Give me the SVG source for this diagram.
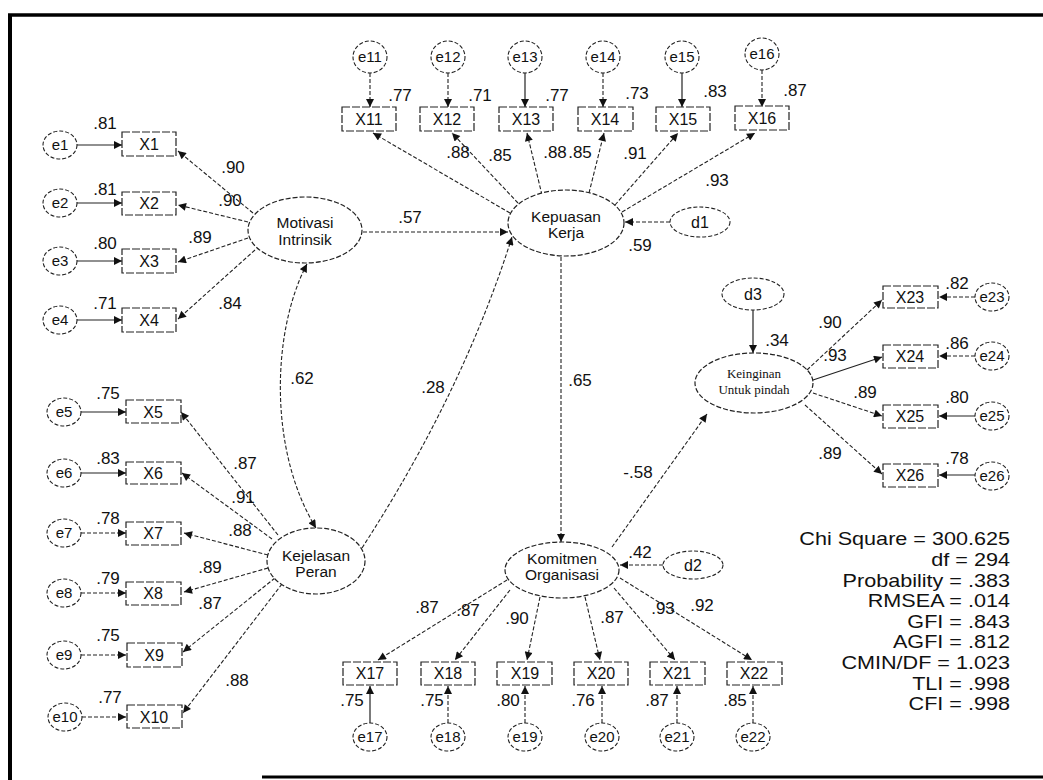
<svg xmlns="http://www.w3.org/2000/svg" width="1043" height="780" viewBox="0 0 1043 780">
<defs>
<marker id="ah" viewBox="0 0 10 10" refX="10" refY="5" markerWidth="10" markerHeight="8" orient="auto-start-reverse" markerUnits="userSpaceOnUse"><path d="M0,0 L10,5 L0,10 z" fill="#111"/></marker>
<style>
.lv{fill:#fff;stroke:#222;stroke-width:1.2;stroke-dasharray:5 2}
.ev{fill:#fff;stroke:#222;stroke-width:1.1;stroke-dasharray:4 2}
.bx{fill:#fff;stroke:#222;stroke-width:1.2;stroke-dasharray:8 2}
.c{fill:none;stroke:#222;stroke-width:1.1;stroke-dasharray:4 2;marker-end:url(#ah)}
.s{fill:none;stroke:#222;stroke-width:1.2;marker-end:url(#ah)}
.bi{fill:none;stroke:#222;stroke-width:1.1;stroke-dasharray:4 2;marker-end:url(#ah);marker-start:url(#ah)}
text{font-family:"Liberation Sans",Arial,sans-serif;fill:#111}
.n{font-size:16px;text-anchor:middle}
.e{font-size:15px;text-anchor:middle}
.v{font-size:17px;text-anchor:middle}
.lt{font-size:15.5px;text-anchor:middle}
.sr{font-family:"Liberation Serif","Times New Roman",serif;font-size:13px;text-anchor:middle}
.fit{font-size:18px;text-anchor:end}
</style>
</defs>
<rect width="1043" height="780" fill="#fff"/>
<g id="frame" stroke="#000" fill="none">
<line x1="10" y1="14" x2="10" y2="780" stroke-width="4"/>
<line x1="8" y1="15" x2="1043" y2="15" stroke-width="3.5"/>
<line x1="262" y1="777" x2="1043" y2="777" stroke-width="3"/>
</g>
<g id="connectors">
<path class="c" d="M253 213 L178 151"/>
<path class="c" d="M248 222 L178 205"/>
<path class="c" d="M248 238 L178 262"/>
<path class="c" d="M255 250 L178 319"/>
<path class="s" d="M77 145 L122 145"/>
<path class="s" d="M77 203 L122 203"/>
<path class="s" d="M77 261 L122 261"/>
<path class="s" d="M77 320 L122 320"/>
<path class="c" d="M510 213 L373 133"/>
<path class="c" d="M518 203 L452 133"/>
<path class="c" d="M542 195 L527 133"/>
<path class="c" d="M589 193 L604 133"/>
<path class="c" d="M615 205 L678 133"/>
<path class="c" d="M622 212 L755 133"/>
<path class="c" d="M370 73 L370 107"/>
<path class="c" d="M448 73 L448 107"/>
<path class="s" d="M525 73 L525 107"/>
<path class="c" d="M603 73 L603 107"/>
<path class="s" d="M682 73 L682 107"/>
<path class="c" d="M762 70 L762 107"/>
<path class="c" d="M670 222 L625 222"/>
<path class="c" d="M363 232 L508 232"/>
<path class="bi" d="M307 264 C272 330 268 450 316 528"/>
<path class="c" d="M362 548 Q463 392 512 237"/>
<path class="c" d="M278 535 L181 412"/>
<path class="c" d="M272 539 L182 473"/>
<path class="c" d="M268 555 L184 533"/>
<path class="c" d="M268 568 L184 592"/>
<path class="c" d="M275 578 L183 652"/>
<path class="c" d="M282 584 L183 713"/>
<path class="s" d="M81 412 L126 412"/>
<path class="s" d="M81 473 L126 473"/>
<path class="c" d="M81 533 L126 533"/>
<path class="c" d="M81 593 L126 593"/>
<path class="c" d="M81 655 L126 655"/>
<path class="c" d="M82 717 L126 717"/>
<path class="c" d="M561 257 L561 542"/>
<path class="c" d="M663 565 L620 565"/>
<path class="c" d="M612 547 L707 414"/>
<path class="c" d="M507 580 L378 660"/>
<path class="c" d="M510 590 L455 660"/>
<path class="c" d="M540 597 L527 660"/>
<path class="c" d="M585 597 L600 660"/>
<path class="c" d="M614 588 L675 660"/>
<path class="c" d="M620 578 L752 660"/>
<path class="s" d="M370 723 L370 686"/>
<path class="c" d="M448 723 L448 686"/>
<path class="c" d="M525 723 L525 686"/>
<path class="c" d="M602 723 L602 686"/>
<path class="c" d="M677 723 L677 686"/>
<path class="c" d="M753 723 L753 686"/>
<path class="s" d="M753 310 L753 353"/>
<path class="c" d="M807 370 L882 300"/>
<path class="s" d="M813 380 L882 357"/>
<path class="c" d="M813 393 L882 416"/>
<path class="c" d="M805 405 L882 474"/>
<path class="c" d="M975 297 L939 297"/>
<path class="c" d="M975 356 L939 356"/>
<path class="s" d="M975 416 L939 416"/>
<path class="s" d="M975 475 L939 475"/>
</g>
<g id="motivasi"><ellipse class="lv" cx="305" cy="230" rx="57" ry="33"/><text class="lt" x="305" y="228">Motivasi</text><text class="lt" x="305" y="245">Intrinsik</text></g>
<g id="kepuasan"><ellipse class="lv" cx="566" cy="223" rx="58" ry="33"/><text class="lt" x="566" y="222">Kepuasan</text><text class="lt" x="566" y="238">Kerja</text></g>
<g id="kejelasan"><ellipse class="lv" cx="316" cy="561" rx="49" ry="33"/><text class="lt" x="316" y="561">Kejelasan</text><text class="lt" x="316" y="577">Peran</text></g>
<g id="komitmen"><ellipse class="lv" cx="562" cy="570" rx="57" ry="28"/><text class="lt" x="562" y="564">Komitmen</text><text class="lt" x="562" y="580">Organisasi</text></g>
<g id="keinginan"><ellipse class="lv" cx="754" cy="383" rx="59" ry="30"/><text class="sr" x="754" y="378">Keinginan</text><text class="sr" x="754" y="394">Untuk pindah</text></g>
<g id="d1"><ellipse class="ev" cx="700" cy="222" rx="30" ry="15"/><text class="n" x="700" y="228">d1</text></g>
<g id="d2"><ellipse class="ev" cx="693" cy="565" rx="30" ry="14"/><text class="n" x="693" y="571">d2</text></g>
<g id="d3"><ellipse class="ev" cx="753" cy="294" rx="31" ry="16"/><text class="n" x="753" y="300">d3</text></g>
<g id="X1"><rect class="bx" x="122" y="132" width="54" height="24"/><text class="n" x="149" y="150">X1</text></g>
<g id="X2"><rect class="bx" x="122" y="192" width="54" height="23"/><text class="n" x="149" y="209">X2</text></g>
<g id="X3"><rect class="bx" x="122" y="249" width="54" height="24"/><text class="n" x="149" y="267">X3</text></g>
<g id="X4"><rect class="bx" x="122" y="308" width="54" height="24"/><text class="n" x="149" y="326">X4</text></g>
<g id="X5"><rect class="bx" x="126" y="400" width="55" height="23"/><text class="n" x="153" y="418">X5</text></g>
<g id="X6"><rect class="bx" x="126" y="462" width="55" height="22"/><text class="n" x="153" y="479">X6</text></g>
<g id="X7"><rect class="bx" x="126" y="522" width="55" height="23"/><text class="n" x="153" y="539">X7</text></g>
<g id="X8"><rect class="bx" x="126" y="582" width="55" height="23"/><text class="n" x="153" y="599">X8</text></g>
<g id="X9"><rect class="bx" x="127" y="643" width="55" height="24"/><text class="n" x="154" y="661">X9</text></g>
<g id="X10"><rect class="bx" x="127" y="705" width="55" height="23"/><text class="n" x="154" y="723">X10</text></g>
<g id="e1"><ellipse class="ev" cx="60" cy="145" rx="17" ry="14"/><text class="e" x="60" y="150">e1</text></g>
<g id="e2"><ellipse class="ev" cx="60" cy="203" rx="17" ry="14"/><text class="e" x="60" y="208">e2</text></g>
<g id="e3"><ellipse class="ev" cx="60" cy="261" rx="17" ry="14"/><text class="e" x="60" y="266">e3</text></g>
<g id="e4"><ellipse class="ev" cx="60" cy="320" rx="17" ry="14"/><text class="e" x="60" y="325">e4</text></g>
<g id="e5"><ellipse class="ev" cx="64" cy="412" rx="17" ry="14"/><text class="e" x="64" y="417">e5</text></g>
<g id="e6"><ellipse class="ev" cx="64" cy="473" rx="17" ry="14"/><text class="e" x="64" y="478">e6</text></g>
<g id="e7"><ellipse class="ev" cx="64" cy="533" rx="17" ry="14"/><text class="e" x="64" y="538">e7</text></g>
<g id="e8"><ellipse class="ev" cx="64" cy="593" rx="17" ry="14"/><text class="e" x="64" y="598">e8</text></g>
<g id="e9"><ellipse class="ev" cx="64" cy="655" rx="17" ry="14"/><text class="e" x="64" y="660">e9</text></g>
<g id="e10"><ellipse class="ev" cx="65" cy="717" rx="17" ry="14"/><text class="e" x="65" y="722">e10</text></g>
<g id="X11"><rect class="bx" x="342" y="107" width="54" height="24"/><text class="n" x="369" y="125">X11</text></g>
<g id="X12"><rect class="bx" x="420" y="107" width="54" height="24"/><text class="n" x="447" y="125">X12</text></g>
<g id="X13"><rect class="bx" x="499" y="107" width="54" height="24"/><text class="n" x="526" y="125">X13</text></g>
<g id="X14"><rect class="bx" x="578" y="107" width="55" height="24"/><text class="n" x="605" y="125">X14</text></g>
<g id="X15"><rect class="bx" x="656" y="107" width="54" height="24"/><text class="n" x="683" y="125">X15</text></g>
<g id="X16"><rect class="bx" x="735" y="106" width="54" height="24"/><text class="n" x="762" y="124">X16</text></g>
<g id="e11"><ellipse class="ev" cx="370" cy="57" rx="17" ry="16"/><text class="e" x="370" y="62">e11</text></g>
<g id="e12"><ellipse class="ev" cx="448" cy="57" rx="17" ry="16"/><text class="e" x="448" y="62">e12</text></g>
<g id="e13"><ellipse class="ev" cx="525" cy="57" rx="17" ry="16"/><text class="e" x="525" y="62">e13</text></g>
<g id="e14"><ellipse class="ev" cx="603" cy="57" rx="17" ry="16"/><text class="e" x="603" y="62">e14</text></g>
<g id="e15"><ellipse class="ev" cx="682" cy="57" rx="17" ry="16"/><text class="e" x="682" y="62">e15</text></g>
<g id="e16"><ellipse class="ev" cx="762" cy="54" rx="17" ry="16"/><text class="e" x="762" y="59">e16</text></g>
<g id="X17"><rect class="bx" x="343" y="662" width="54" height="23"/><text class="n" x="370" y="679">X17</text></g>
<g id="X18"><rect class="bx" x="421" y="662" width="54" height="23"/><text class="n" x="448" y="679">X18</text></g>
<g id="X19"><rect class="bx" x="497" y="662" width="55" height="23"/><text class="n" x="525" y="679">X19</text></g>
<g id="X20"><rect class="bx" x="574" y="662" width="54" height="23"/><text class="n" x="601" y="679">X20</text></g>
<g id="X21"><rect class="bx" x="650" y="662" width="55" height="23"/><text class="n" x="677" y="679">X21</text></g>
<g id="X22"><rect class="bx" x="727" y="662" width="55" height="23"/><text class="n" x="754" y="679">X22</text></g>
<g id="e17"><ellipse class="ev" cx="370" cy="737" rx="17" ry="14"/><text class="e" x="370" y="742">e17</text></g>
<g id="e18"><ellipse class="ev" cx="448" cy="737" rx="17" ry="14"/><text class="e" x="448" y="742">e18</text></g>
<g id="e19"><ellipse class="ev" cx="525" cy="737" rx="17" ry="14"/><text class="e" x="525" y="742">e19</text></g>
<g id="e20"><ellipse class="ev" cx="602" cy="737" rx="17" ry="14"/><text class="e" x="602" y="742">e20</text></g>
<g id="e21"><ellipse class="ev" cx="677" cy="737" rx="17" ry="14"/><text class="e" x="677" y="742">e21</text></g>
<g id="e22"><ellipse class="ev" cx="753" cy="737" rx="17" ry="14"/><text class="e" x="753" y="742">e22</text></g>
<g id="X23"><rect class="bx" x="883" y="286" width="55" height="22"/><text class="n" x="910" y="303">X23</text></g>
<g id="X24"><rect class="bx" x="883" y="345" width="55" height="23"/><text class="n" x="910" y="362">X24</text></g>
<g id="X25"><rect class="bx" x="883" y="405" width="55" height="23"/><text class="n" x="910" y="422">X25</text></g>
<g id="X26"><rect class="bx" x="883" y="464" width="55" height="23"/><text class="n" x="910" y="481">X26</text></g>
<g id="e23"><ellipse class="ev" cx="992" cy="297" rx="17" ry="14"/><text class="e" x="992" y="302">e23</text></g>
<g id="e24"><ellipse class="ev" cx="992" cy="356" rx="17" ry="14"/><text class="e" x="992" y="361">e24</text></g>
<g id="e25"><ellipse class="ev" cx="992" cy="416" rx="17" ry="14"/><text class="e" x="992" y="421">e25</text></g>
<g id="e26"><ellipse class="ev" cx="992" cy="476" rx="17" ry="14"/><text class="e" x="992" y="481">e26</text></g>
<g id="labels">
<text class="v" x="105" y="129">.81</text>
<text class="v" x="105" y="195">.81</text>
<text class="v" x="105" y="249">.80</text>
<text class="v" x="105" y="309">.71</text>
<text class="v" x="233" y="173">.90</text>
<text class="v" x="230" y="206">.90</text>
<text class="v" x="200" y="243">.89</text>
<text class="v" x="230" y="309">.84</text>
<text class="v" x="410" y="223">.57</text>
<text class="v" x="400" y="101">.77</text>
<text class="v" x="480" y="101">.71</text>
<text class="v" x="557" y="101">.77</text>
<text class="v" x="637" y="99">.73</text>
<text class="v" x="715" y="97">.83</text>
<text class="v" x="795" y="96">.87</text>
<text class="v" x="458" y="158">.88</text>
<text class="v" x="500" y="161">.85</text>
<text class="v" x="555" y="158">.88</text>
<text class="v" x="580" y="158">.85</text>
<text class="v" x="635" y="159">.91</text>
<text class="v" x="717" y="186">.93</text>
<text class="v" x="640" y="251">.59</text>
<text class="v" x="302" y="384">.62</text>
<text class="v" x="433" y="393">.28</text>
<text class="v" x="580" y="386">.65</text>
<text class="v" x="108" y="399">.75</text>
<text class="v" x="108" y="464">.83</text>
<text class="v" x="108" y="524">.78</text>
<text class="v" x="108" y="584">.79</text>
<text class="v" x="108" y="641">.75</text>
<text class="v" x="110" y="703">.77</text>
<text class="v" x="245" y="469">.87</text>
<text class="v" x="243" y="503">.91</text>
<text class="v" x="240" y="536">.88</text>
<text class="v" x="210" y="573">.89</text>
<text class="v" x="210" y="609">.87</text>
<text class="v" x="237" y="686">.88</text>
<text class="v" x="777" y="346">.34</text>
<text class="v" x="830" y="328">.90</text>
<text class="v" x="835" y="361">.93</text>
<text class="v" x="865" y="398">.89</text>
<text class="v" x="830" y="459">.89</text>
<text class="v" x="957" y="289">.82</text>
<text class="v" x="957" y="349">.86</text>
<text class="v" x="957" y="403">.80</text>
<text class="v" x="957" y="464">.78</text>
<text class="v" x="638" y="478">-.58</text>
<text class="v" x="640" y="558">.42</text>
<text class="v" x="427" y="613">.87</text>
<text class="v" x="468" y="616">.87</text>
<text class="v" x="517" y="624">.90</text>
<text class="v" x="612" y="623">.87</text>
<text class="v" x="663" y="614">.93</text>
<text class="v" x="702" y="611">.92</text>
<text class="v" x="352" y="706">.75</text>
<text class="v" x="432" y="706">.75</text>
<text class="v" x="508" y="706">.80</text>
<text class="v" x="583" y="706">.76</text>
<text class="v" x="657" y="706">.87</text>
<text class="v" x="735" y="706">.85</text>
</g>
<g id="fit" transform="translate(1010,0) scale(1.2,1)">
<text class="fit" x="0" y="545">Chi Square = 300.625</text>
<text class="fit" x="0" y="566">df = 294</text>
<text class="fit" x="0" y="587">Probability = .383</text>
<text class="fit" x="0" y="607">RMSEA = .014</text>
<text class="fit" x="0" y="628">GFI = .843</text>
<text class="fit" x="0" y="648">AGFI = .812</text>
<text class="fit" x="0" y="669">CMIN/DF = 1.023</text>
<text class="fit" x="0" y="690">TLI = .998</text>
<text class="fit" x="0" y="710">CFI = .998</text>
</g>
</svg>
